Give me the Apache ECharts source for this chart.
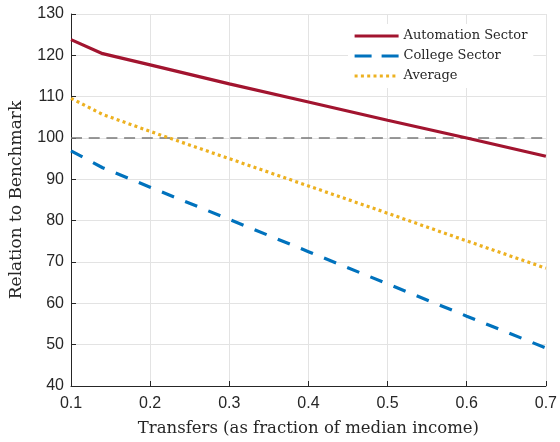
<!DOCTYPE html>
<html>
<head>
<meta charset="utf-8">
<script src="https://cdn.jsdelivr.net/npm/echarts@6/dist/echarts.min.js"></script>
<style>html,body{margin:0;padding:0;background:#fff}#c{width:560px;height:442px}</style>
</head>
<body>
<div id="c"></div>
<script>
var transfers = [0.1, 0.14, 0.2, 0.3, 0.4, 0.5, 0.6, 0.7];
var automation = [123.8, 120.4, 117.7, 113.1, 108.7, 104.3, 100.0, 95.6];
var college = [96.9, 92.8, 88.1, 80.3, 72.5, 64.7, 56.9, 49.2];
var average = [109.6, 105.7, 101.6, 95.0, 88.4, 81.8, 75.1, 68.5];
var benchmarkX = [0.1, 0.7];
var benchmarkY = [100, 100];
var seriesNames = ['Automation Sector', 'College Sector', 'Average'];
var xTicks = [0.1, 0.2, 0.3, 0.4, 0.5, 0.6, 0.7];
var yTicks = [40, 50, 60, 70, 80, 90, 100, 110, 120, 130];

function pairs(xs, ys) { return xs.map(function (x, i) { return [x, ys[i]]; }); }

var chart = echarts.init(document.getElementById('c'), null, { renderer: 'canvas' });
var axisColor = '#262626';
var gridColor = '#e3e3e3';
var serif = '"DejaVu Serif", "Liberation Serif", serif';
var sans = '"Liberation Sans", Arial, sans-serif';
var legendDash = ['solid', [17, 10], [3, 3.3]];

chart.setOption({
  animation: false,
  backgroundColor: '#fff',
  grid: { left: 70, right: 12, top: 14, bottom: 56, containLabel: false },
  legend: {
    orient: 'vertical',
    left: 348, top: 24,
    backgroundColor: '#fff',
    padding: [5, 6, 5, 5],
    itemWidth: 44, itemHeight: 14, itemGap: 6,
    itemStyle: { opacity: 0, borderWidth: 0 },
    data: seriesNames.map(function (n, i) {
      return { name: n, lineStyle: { width: 3.2, type: legendDash[i] } };
    }),
    textStyle: { fontFamily: serif, fontSize: 13, color: '#262626', lineHeight: 14 }
  },
  xAxis: {
    type: 'value', min: xTicks[0], max: xTicks[xTicks.length - 1], interval: 0.1,
    name: 'Transfers (as fraction of median income)', nameLocation: 'middle', nameGap: 34,
    nameTextStyle: { fontFamily: serif, fontSize: 16.5, color: '#262626' },
    axisLine: { show: true, lineStyle: { color: axisColor, width: 1 } },
    axisTick: { show: true, inside: true, length: 5, lineStyle: { color: axisColor } },
    axisLabel: { fontFamily: sans, fontSize: 16, color: '#262626', margin: 10,
      formatter: function (v) { return v.toFixed(1); } },
    splitLine: { show: true, lineStyle: { color: gridColor, width: 1 } }
  },
  yAxis: {
    type: 'value', min: yTicks[0], max: yTicks[yTicks.length - 1], interval: 10,
    name: 'Relation to Benchmark', nameLocation: 'middle', nameGap: 46,
    nameTextStyle: { fontFamily: serif, fontSize: 17, color: '#262626' },
    axisLine: { show: true, lineStyle: { color: axisColor, width: 1 } },
    axisTick: { show: true, inside: true, length: 5, lineStyle: { color: axisColor } },
    axisLabel: { fontFamily: sans, fontSize: 16, color: '#262626', margin: 7 },
    splitLine: { show: true, lineStyle: { color: gridColor, width: 1 } }
  },
  series: [
    { name: 'benchmark', type: 'line', data: pairs(benchmarkX, benchmarkY), symbol: 'none', silent: true,
      lineStyle: { color: '#7a7a7a', width: 1.3, type: [11, 6.7] }, z: 1 },
    { name: seriesNames[0], type: 'line', data: pairs(transfers, automation), symbol: 'none',
      itemStyle: { color: '#A2142F' }, lineStyle: { color: '#A2142F', width: 3.2 }, z: 3 },
    { name: seriesNames[1], type: 'line', data: pairs(transfers, college), symbol: 'none',
      itemStyle: { color: '#0072BD' }, lineStyle: { color: '#0072BD', width: 3.2, type: [13, 12] }, z: 3 },
    { name: seriesNames[2], type: 'line', data: pairs(transfers, average), symbol: 'none',
      itemStyle: { color: '#EDB120' }, lineStyle: { color: '#EDB120', width: 3.2, type: [3, 3.3] }, z: 3 }
  ]
});
</script>
</body>
</html>
